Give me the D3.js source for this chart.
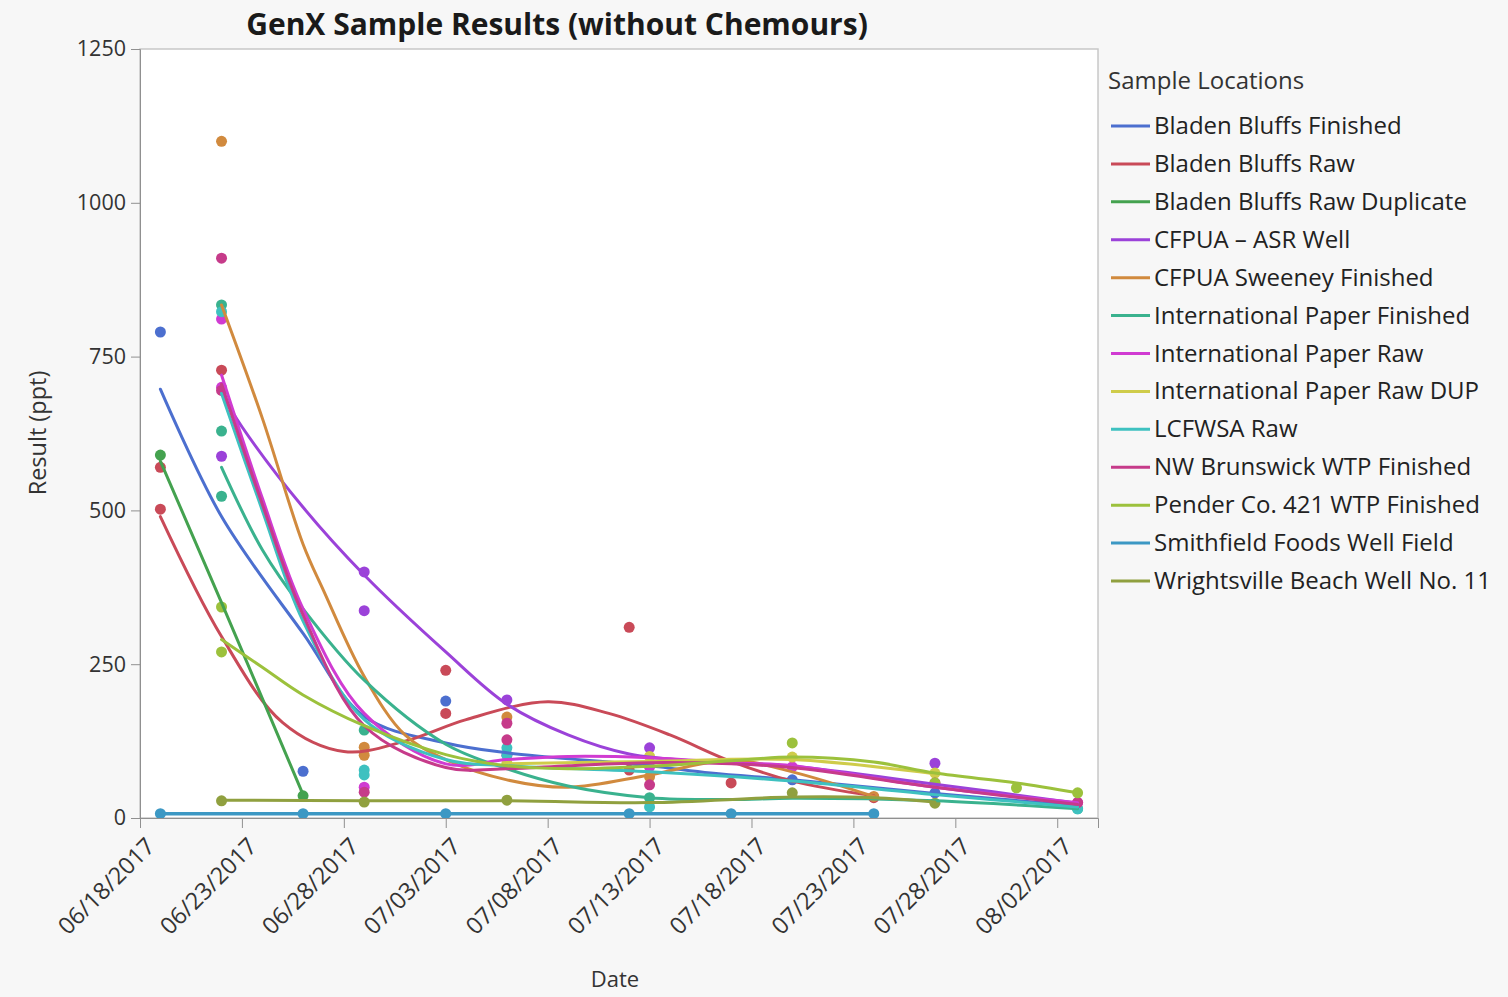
<!DOCTYPE html>
<html><head><meta charset="utf-8">
<script src="https://cdn.jsdelivr.net/npm/d3@7"></script>
<style>
html,body{margin:0;padding:0;background:#f7f7f7;}
svg{display:block;font-family:"Open Sans","Noto Sans",sans-serif;}
</style></head><body>
<svg id="chart" width="1508" height="997"></svg>
<script>
// ---------- data ----------
const title = "GenX Sample Results (without Chemours)";
const locations = [
  "Bladen Bluffs Finished","Bladen Bluffs Raw","Bladen Bluffs Raw Duplicate",
  "CFPUA \u2013 ASR Well","CFPUA Sweeney Finished","International Paper Finished",
  "International Paper Raw","International Paper Raw DUP","LCFWSA Raw",
  "NW Brunswick WTP Finished","Pender Co. 421 WTP Finished","Smithfield Foods Well Field",
  "Wrightsville Beach Well No. 11"];
const xTickLabels = ["06/18/2017","06/23/2017","06/28/2017","07/03/2017","07/08/2017","07/13/2017","07/18/2017","07/23/2017","07/28/2017","08/02/2017"];
const yTickValues = [0,250,500,750,1000,1250];

// sample results [date, ppt]
const ptsBBFinished   = [["6/19",790],["6/26",76],["7/3",190],["7/20",62],["7/27",41]];
const ptsBBRaw        = [["6/19",570],["6/19",502],["6/22",728],["7/3",240],["7/3",170],["7/12",310],["7/12",78],["7/17",57],["7/24",33]];
const ptsBBRawDup     = [["6/19",590],["6/26",36]];
const ptsASRWell      = [["6/22",588],["6/29",400],["6/29",337],["7/6",192],["7/13",114],["7/27",89]];
const ptsSweeney      = [["6/22",1100],["6/29",115],["6/29",102],["7/6",164],["7/13",67],["7/24",35]];
const ptsIPFinished   = [["6/22",834],["6/22",629],["6/22",523],["6/29",143],["7/13",33],["8/3",15]];
const ptsIPRaw        = [["6/22",811],["6/22",700],["6/29",50],["7/6",102],["7/13",83],["7/20",83],["8/3",25]];
const ptsIPRawDup     = [["7/6",89],["7/13",100],["7/20",99],["7/27",73]];
const ptsLCFWSA       = [["6/22",823],["6/29",78],["6/29",70],["7/6",114],["7/6",102],["7/13",18],["8/3",15]];
const ptsNWBrunswick  = [["6/22",910],["6/22",695],["6/29",42],["7/6",154],["7/6",127],["7/13",54],["7/27",57],["8/3",25]];
const ptsPender       = [["6/22",343],["6/22",270],["7/20",122],["7/27",57],["7/31",49],["8/3",41]];
const ptsSmithfield   = [["6/19",7],["6/26",7],["7/3",7],["7/12",7],["7/17",7],["7/24",7]];
const ptsWrightsville = [["6/22",28],["6/29",26],["7/6",29],["7/20",41],["7/27",24]];

// smoothing-spline fits [date, ppt]
const fitBBFinished   = [["6/19",697],["6/22",490],["6/26",300],["6/29",165],["7/3",122],["7/6",106],["7/13",85],["7/16",73],["7/20",62],["7/27",40],["8/3",20]];
const fitBBRaw        = [["6/19",490],["6/22",295],["6/25",155],["6/28",108],["7/1",125],["7/4",160],["7/8",189],["7/11",170],["7/14",135],["7/17",92],["7/20",60],["7/24",36]];
const fitBBRawDup     = [["6/19",580],["6/22",350],["6/26",38]];
const fitASRWell      = [["6/22",690],["6/23",636],["6/26",505],["6/29",395],["7/3",270],["7/6",185],["7/9",135],["7/12",104],["7/16",91],["7/20",84],["7/27",55],["8/3",24]];
const fitSweeney      = [["6/22",834],["6/24",650],["6/26",445],["6/27",370],["6/29",230],["7/1",135],["7/3",95],["7/6",62],["7/9",50],["7/13",70],["7/17",94],["7/20",75],["7/24",35]];
const fitIPFinished   = [["6/22",570],["6/24",436],["6/26",340],["6/29",224],["7/3",120],["7/6",80],["7/9",52],["7/13",33],["7/17",30],["7/20",32],["7/27",28],["8/3",15]];
const fitIPRaw        = [["6/22",720],["6/24",520],["6/26",340],["6/29",170],["7/3",88],["7/6",95],["7/9",100],["7/13",98],["7/17",90],["7/20",85],["7/27",50],["8/3",25]];
const fitIPRawDup     = [["7/6",88],["7/13",92],["7/20",95],["7/27",72]];
const fitLCFWSA       = [["6/22",690],["6/24",500],["6/26",320],["6/29",160],["7/3",95],["7/6",85],["7/13",75],["7/20",60],["7/27",38],["8/3",18]];
const fitNWBrunswick  = [["6/22",705],["6/24",510],["6/26",330],["6/29",150],["7/3",82],["7/6",80],["7/9",85],["7/13",90],["7/17",88],["7/20",82],["7/27",50],["8/3",22]];
const fitPender       = [["6/22",290],["6/24",245],["6/26",200],["6/29",150],["7/3",103],["7/6",85],["7/9",80],["7/13",84],["7/17",93],["7/20",99],["7/24",91],["7/27",73],["7/31",57],["8/3",41]];
const fitSmithfield   = [["6/19",7],["7/24",7]];
const fitWrightsville = [["6/22",29],["6/29",28],["7/6",28],["7/13",25],["7/20",34],["7/24",33],["7/27",26]];

const allPoints = [ptsBBFinished,ptsBBRaw,ptsBBRawDup,ptsASRWell,ptsSweeney,ptsIPFinished,ptsIPRaw,ptsIPRawDup,ptsLCFWSA,ptsNWBrunswick,ptsPender,ptsSmithfield,ptsWrightsville];
const allFits   = [fitBBFinished,fitBBRaw,fitBBRawDup,fitASRWell,fitSweeney,fitIPFinished,fitIPRaw,fitIPRawDup,fitLCFWSA,fitNWBrunswick,fitPender,fitSmithfield,fitWrightsville];

// ---------- styles ----------
const palette = ["#4c6fcf","#c94a58","#44a24f","#9b42d9","#d18a3e","#3ab28e","#d03bd2","#cfcc4a","#3ec1c0","#c63b8a","#9cc13c","#3c98c4","#90a03f"];

// ---------- drawing ----------
const parse = d3.timeParse("%m/%d/%Y");
const toDate = s => parse(s + "/2017");
const svg = d3.select("#chart");
const M = {left:140, right:1098, top:49, bottom:818};

const x = d3.scaleTime().domain([toDate("6/18"), toDate("8/4")]).range([M.left, M.right]);
const y = d3.scaleLinear().domain([0,1250]).range([M.bottom, M.top]);

svg.append("rect").attr("x",M.left).attr("y",M.top).attr("width",M.right-M.left).attr("height",M.bottom-M.top)
  .attr("fill","#ffffff").attr("stroke","#c8c8c8").attr("stroke-width",1.5);

// title
svg.append("text").attr("x",557).attr("y",35).attr("text-anchor","middle")
  .attr("font-size",30).attr("font-weight","bold").attr("fill","#1a1a1a").text(title);

// axes
const yAxis = d3.axisLeft(y).tickValues(yTickValues).tickFormat(d3.format("d")).tickSize(9).tickPadding(5);
const gy = svg.append("g").attr("transform",`translate(${M.left},0)`).call(yAxis);
gy.selectAll("text").attr("font-size",21.5).attr("fill","#333").style("font-family","'Open Sans',sans-serif");
gy.selectAll("line,path").attr("stroke","#909090");

const xTickDates = xTickLabels.map(s => parse(s));
const xAxis = d3.axisBottom(x).tickValues(xTickDates).tickFormat(d3.timeFormat("%m/%d/%Y")).tickSize(10).tickPadding(4);
const gx = svg.append("g").attr("transform",`translate(0,${M.bottom})`).call(xAxis);
gx.selectAll("line,path").attr("stroke","#909090");
gx.selectAll("text").attr("font-size",23.5).attr("fill","#333").style("font-family","'Open Sans',sans-serif")
  .attr("text-anchor","end").attr("x",0).attr("y",0).attr("dy","0.35em")
  .attr("transform","translate(10,24) rotate(-45)");

svg.append("text").attr("x",615).attr("y",987).attr("text-anchor","middle").attr("font-size",22).attr("fill","#333").text("Date");
svg.append("text").attr("transform","translate(46,433) rotate(-90)").attr("text-anchor","middle").attr("font-size",23.5).attr("fill","#333").text("Result (ppt)");

// plot clip
svg.append("clipPath").attr("id","clip").append("rect").attr("x",M.left).attr("y",M.top-6).attr("width",M.right-M.left).attr("height",M.bottom-M.top+6);
const plot = svg.append("g").attr("clip-path","url(#clip)");

const line = d3.line().x(d => x(toDate(d[0]))).y(d => y(d[1])).curve(d3.curveCatmullRom.alpha(0.5));

// points
allPoints.forEach((pts,i) => {
  plot.append("g").selectAll("circle").data(pts).join("circle")
    .attr("cx", d => x(toDate(d[0]))).attr("cy", d => y(d[1])).attr("r",5.5)
    .attr("fill", palette[i]);
});
// fitted curves
allFits.forEach((fit,i) => {
  plot.append("path").datum(fit).attr("d", line)
    .attr("fill","none").attr("stroke", palette[i]).attr("stroke-width", i===11 ? 3.5 : 3)
    .attr("stroke-linejoin","round").attr("stroke-linecap","round");
});

// legend
const lg = svg.append("g").attr("transform","translate(1108,0)");
lg.append("text").attr("x",0).attr("y",89).attr("font-size",24).attr("fill","#333").text("Sample Locations");
const legY = d3.scalePoint().domain(locations).range([126,581]);
locations.forEach((name,i) => {
  const yy = legY(name);
  lg.append("line").attr("x1",3).attr("x2",42).attr("y1",yy).attr("y2",yy).attr("stroke",palette[i]).attr("stroke-width",3);
  lg.append("text").attr("x",46).attr("y",yy+8).attr("font-size",24).attr("fill","#222").text(name);
});
</script>
</body></html>
